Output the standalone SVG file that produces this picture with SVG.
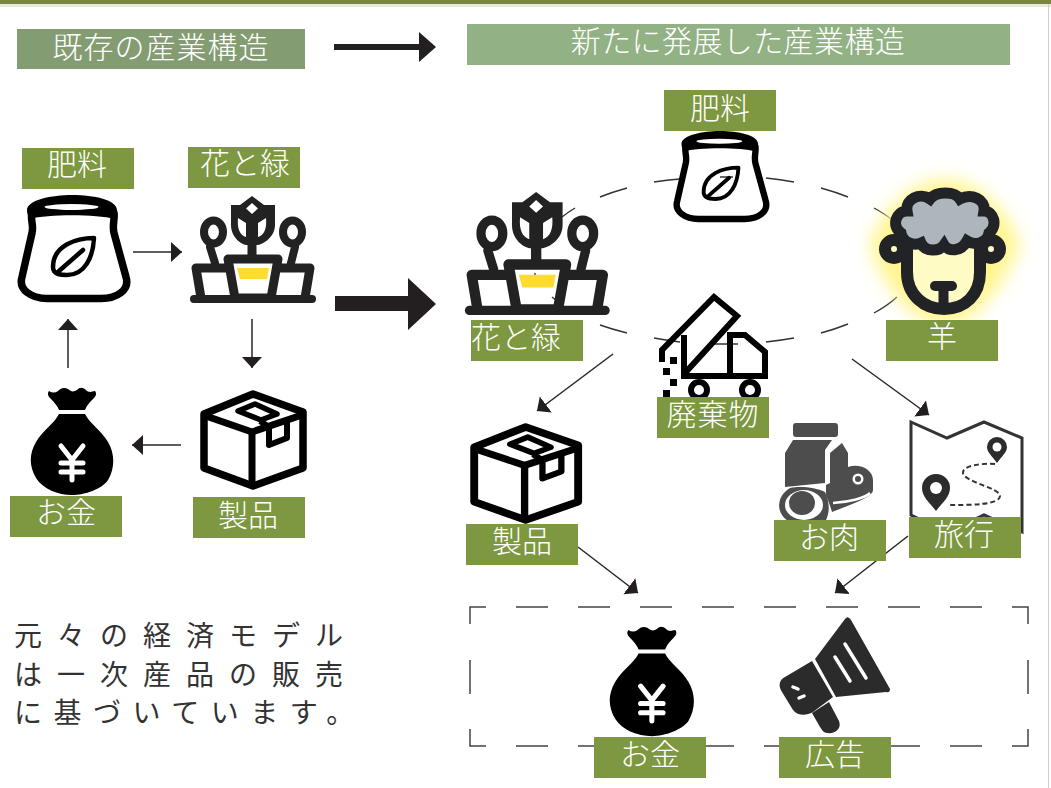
<svg xmlns="http://www.w3.org/2000/svg" width="1051" height="788" viewBox="0 0 1051 788">
<style>
text{font-family:"Noto Sans CJK JP","Noto Sans CJK SC",sans-serif;fill:#fff;font-size:30px;text-anchor:middle;font-weight:300}
.lb{fill:#7d9840}
.ln{fill:none;stroke:#2a2627;stroke-width:1.5}
text.body{fill:#333;font-size:28px;text-anchor:start;font-weight:400}
.dash{fill:none;stroke:#333;stroke-width:1.4}
</style>
<defs>
<marker id="ah" markerUnits="userSpaceOnUse" markerWidth="14" markerHeight="22" refX="11" refY="10" orient="auto"><path d="M0 0L11 10L0 20Z" fill="#231f20"/></marker>
<filter id="glow" x="-30%" y="-30%" width="160%" height="160%"><feGaussianBlur stdDeviation="9"/></filter>
<symbol id="sack" overflow="visible">
<path fill="#000" d="M10 15C10 5 35 0 55 0C77 0 100 5 100 15C100 20 98 22 97 24C80 19 30 19 13 24C12 22 10 20 10 15Z"/>
<ellipse cx="54.500" cy="12" rx="27" ry="3" fill="#fff"/>
<g fill="none" stroke="#000" stroke-width="7.500" stroke-linejoin="round" stroke-linecap="round">
<path d="M15 18C13 24 17 30 15 38L5 82C1 95 15 103.500 30 103.500H84C100 103.500 113 95 109 82L97 38C95 30 98 24 97 18"/>
<path stroke-width="4.500" d="M77 43C60 43 36 50 36 72C36 80 45 80 50 80C68 80 76 62 77 43ZM42 76L66 55"/></g></symbol>
<symbol id="plant" overflow="visible">
<path fill="#222" d="M61 0L73 9H84V29C84 41 72 49 65.500 49V60H56.500V49C50 49 40 41 40 29V9H49Z"/>
<path fill="#fff" d="M61 7L67 12.500L61 18L55 12.500ZM47 22L55 27V41C49 39 46 33 47 22ZM75 22L67 27V41C73 39 76 33 75 22Z"/>
<g fill="none" stroke="#222" stroke-width="9" stroke-linejoin="round" stroke-linecap="round">
<path d="M3 103H121" stroke-width="8"/>
<ellipse cx="22.500" cy="36" rx="9.500" ry="11.500" stroke-width="8"/><ellipse cx="101.500" cy="36" rx="9.500" ry="11.500" stroke-width="8"/>
<path d="M19 51L24 67M104 51L100 67" stroke-width="8"/>
<path d="M37 63H87L80 102H44ZM34 72H5L10 102M90 72H119L114 102"/></g>
<path d="M46 72H78L76 83H49Z" fill="#fedb2c"/></symbol>
<symbol id="box" overflow="visible"><g fill="none" stroke="#000" stroke-width="7.500" stroke-linejoin="round">
<path d="M53 3L103 21V77L53 95L4 77V23Z"/><path d="M3 24L52 41L102 24M52 41V93" stroke-width="7"/>
<path d="M38 20L55 13L77 23L61 29Z" stroke-width="5.500"/>
<path d="M60 30L69 36V54L87 47V29" stroke-width="6"/></g></symbol>
<symbol id="money" overflow="visible">
<path fill="#000" d="M19 3C17 6 18 8 21 11C25 15 28 19 29 22H55C57 17 60 14 63 11C66 8 67 6 65 3C62 3 61 5 57 3C53 -1 50 -1 47 2C44 4 41 4 38 1C34 -1 31 0 28 3C25 5 22 5 19 3ZM29 26H55C60 36 71 42 78 54C85 66 85 80 78 92C72 101 55 107 42 107C28 107 13 101 6 90C-1 78 -1 66 6 54C13 42 24 36 29 26Z"/>
<path fill="none" stroke="#fff" stroke-width="5" stroke-linecap="round" stroke-linejoin="round" d="M31 58L42 72L53 58M42 72V92M31 75H53M31 84H53"/></symbol>
</defs>

<rect x="0" y="0" width="1051" height="4" fill="#7a8443"/>
<rect x="0" y="4" width="1051" height="3" fill="#e8eadb"/>
<rect x="1048" y="4" width="1" height="784" fill="#cfcfcf"/>

<g id="connectors">
<path d="M334 47H420" fill="none" stroke="#231f20" stroke-width="6"/><path d="M419 32L436 47L419 62Z" fill="#231f20"/>
<path d="M335 296H408V278L436 304L408 330V311H335Z" fill="#231f20"/>
<path class="ln" marker-end="url(#ah)" d="M133 252H182"/>
<path class="ln" marker-end="url(#ah)" d="M252 319V368"/>
<path class="ln" marker-end="url(#ah)" d="M181 445H132"/>
<path class="ln" marker-end="url(#ah)" d="M68 368V319"/>
<path class="ln" marker-end="url(#ah)" d="M613 354L537 411"/>
<path class="ln" marker-end="url(#ah)" d="M852 359L929 415"/>
<path class="ln" marker-end="url(#ah)" d="M578 547L638 593"/>
<path class="ln" marker-end="url(#ah)" d="M908 536L835 593"/>
<path class="dash" d="M562 217A195 83 0 0 1 575 208M600 197A195 83 0 0 1 627 188M654 182A195 83 0 0 1 680 179M720 177H733M766 178A195 83 0 0 1 794 182M821 188A195 83 0 0 1 848 197M874 208A195 83 0 0 1 896 223M915 250Q916 262 913 273M897 297A195 83 0 0 1 874 313M848 324A195 83 0 0 1 821 333M794 338A195 83 0 0 1 766 342M710 344H738M680 342A195 83 0 0 1 654 338M627 333A195 83 0 0 1 600 325M557 301L552 297M535 273V276"/>
<path fill="none" stroke="#444" stroke-width="1.5" d="M470 624V607H486M516 607H548M578 607H610M640 607H672M702 607H734M764 607H796M826 607H858M888 607H920M950 607H982M1012 607H1028V624M470 660V694M1028 660V694M470 729V746H486M516 746H548M578 746H610M640 746H672M702 746H734M764 746H796M826 746H858M888 746H920M950 746H982M1012 746H1028V729"/>
</g>

<g id="title-old"><rect x="17" y="29" width="288" height="40" fill="#849c72"/><text x="161" y="58" letter-spacing="1">既存の産業構造</text></g>
<g id="title-new"><rect x="467" y="24" width="543" height="41" fill="#92b184"/><text x="738" y="52" letter-spacing=".4">新たに発展した産業構造</text></g>

<g id="left-fertilizer"><use href="#sack" transform="translate(17,195)"/><rect class="lb" x="22" y="148" width="112" height="41"/><text x="77" y="175">肥料</text></g>
<g id="left-flowers"><use href="#plant" transform="translate(191,196)"/><rect class="lb" x="188" y="147" width="112" height="41"/><text x="245" y="174">花と緑</text></g>
<g id="left-product"><use href="#box" transform="translate(200,391)"/><rect class="lb" x="193" y="497" width="112" height="41"/><text x="248" y="526">製品</text></g>
<g id="left-money"><use href="#money" transform="translate(30,388)"/><rect class="lb" x="10" y="496" width="112" height="41"/><text x="66" y="523">お金</text></g>

<g id="note">
<text class="body" x="14" y="646" letter-spacing="15">元々の経済モデル</text>
<text class="body" x="14" y="685" letter-spacing="15">は一次産品の販売</text>
<text class="body" x="14" y="723" letter-spacing="11.500">に基づいています。</text>
</g>

<g id="right-fertilizer"><use href="#sack" transform="translate(673,131) scale(.85)"/><rect class="lb" x="664" y="90" width="112" height="41"/><text x="720" y="119">肥料</text></g>
<g id="right-flowers"><use href="#plant" transform="translate(466,192) scale(1.15)"/><rect class="lb" x="471" y="320" width="112" height="41"/><text x="516" y="348">花と緑</text></g>

<g id="right-sheep">
<path d="M945 180C975 180 1005 205 1020 245C1000 290 975 325 945 325C915 325 885 290 870 245C885 205 915 180 945 180Z" fill="#fff58a" filter="url(#glow)"/>
<g fill="none" stroke="#222327" stroke-width="12" stroke-linecap="round">
<circle cx="894" cy="249" r="9" fill="#fffbc4"/><circle cx="991" cy="249" r="9" fill="#fffbc4"/>
<path d="M907 245V272C907 295 924 309 944 309C965 309 980 295 980 272V245" fill="#fffbc4"/>
<path stroke-width="11" d="M901 233C891 226 896 211 907 211C905 199 920 192 930 199C936 191 955 191 960 199C971 193 986 199 984 211C994 211 998 226 989 233C987 243 975 246 967 241C961 252 948 252 944 245C939 252 925 252 921 243C914 246 903 243 901 233Z" fill="#adb5bd"/>
<path d="M935 286H952" stroke-width="10"/><path d="M943.500 286V306" stroke-width="10" stroke-linecap="butt"/></g>
<rect class="lb" x="886" y="320" width="112" height="41"/><text x="942" y="347">羊</text></g>

<g id="right-waste">
<g fill="none" stroke="#000" stroke-width="6" stroke-linejoin="miter"><path d="M662 362V350L714 297L737 316L685 373"/><path d="M684 335V376H765V352L745 335H730V376"/>
<circle cx="699" cy="390" r="8"/><circle cx="750" cy="390" r="8"/></g>
<path d="M670 357h7v7h-7zM663 368h7v7h-7zM670 379h7v7h-7zM663 390h7v7h-7z" fill="#000"/>
<rect class="lb" x="657" y="397" width="112" height="41"/><text x="713" y="425" letter-spacing="1">廃棄物</text></g>

<g id="right-product"><use href="#box" transform="translate(470,424) scale(1.05,1.01)"/><rect class="lb" x="466" y="524" width="112" height="41"/><text x="522" y="552">製品</text></g>

<g id="right-meat">
<rect x="793" y="423" width="45" height="14" rx="3" fill="#4d4d4d"/>
<path fill="#4d4d4d" d="M785 453L793 440H832L825 450V483L785 487Z"/>
<path fill="#4d4d4d" d="M830 453L842 443L848 453V467C860 463 873 470 873 480V490C873 497 850 505 832 512C830 505 828 500 826 495V485L830 483Z"/>
<path fill="none" stroke="#fff" stroke-width="2.500" d="M833 503C850 502 865 498 870 493"/>
<circle cx="858" cy="479" r="5.500" fill="#fff"/><circle cx="858" cy="479" r="3" fill="#4d4d4d"/>
<path d="M790 488C800 486 815 487 825 492C830 503 830 513 825 522H790C776 515 775 497 790 488Z" fill="#4d4d4d"/>
<ellipse cx="804" cy="505" rx="19" ry="15" fill="#fff"/><ellipse cx="802" cy="503" rx="13" ry="12" fill="#4d4d4d"/>
<rect class="lb" x="774" y="520" width="112" height="41"/><text x="829" y="548">お肉</text></g>

<g id="right-travel">
<path d="M911 422L947 438L984 422L1022 438V532L984 515L947 532L911 515Z" fill="none" stroke="#333" stroke-width="3"/>
<path d="M997 463C992 456 987 452 987 447A10 10 0 0 1 1007 447C1007 452 1002 456 997 463ZM936 511C930 503 922 497 922 488A14 14 0 0 1 950 488C950 497 942 503 936 511Z" fill="#2c2c2c"/>
<circle cx="997" cy="447" r="4.500" fill="#fff"/><circle cx="936" cy="488" r="6" fill="#fff"/>
<path d="M995 464C980 463 962 466 963 473C964 482 1000 488 1000 496C1000 505 970 505 948 505" fill="none" stroke="#333" stroke-width="2" stroke-dasharray="5 3"/>
<rect class="lb" x="909" y="517" width="112" height="41"/><text x="964" y="545">旅行</text></g>

<g id="right-money"><use href="#money" transform="translate(609,627) scale(1.02)"/><rect class="lb" x="594" y="737" width="112" height="41"/><text x="650" y="765">お金</text></g>

<g id="right-ad">
<path fill="#2b2b2b" d="M845 619Q848 615 851 620L890 689Q890 693 886 692L836 697L815 659ZM812 661L833 697L813 712C806 716 798 716 793 710L782 692C778 686 779 680 785 677ZM829 702L839 721C842 729 835 734 827 733C824 733 822 730 820 727L812 713Z"/>
<path fill="none" stroke="#fff" stroke-width="3.500" stroke-linecap="round" d="M845 644L866 678M835 657L850 681M793 687L798 689M799 698L804 696"/>
<rect class="lb" x="779" y="737" width="112" height="41"/><text x="835" y="765">広告</text></g>
</svg>
